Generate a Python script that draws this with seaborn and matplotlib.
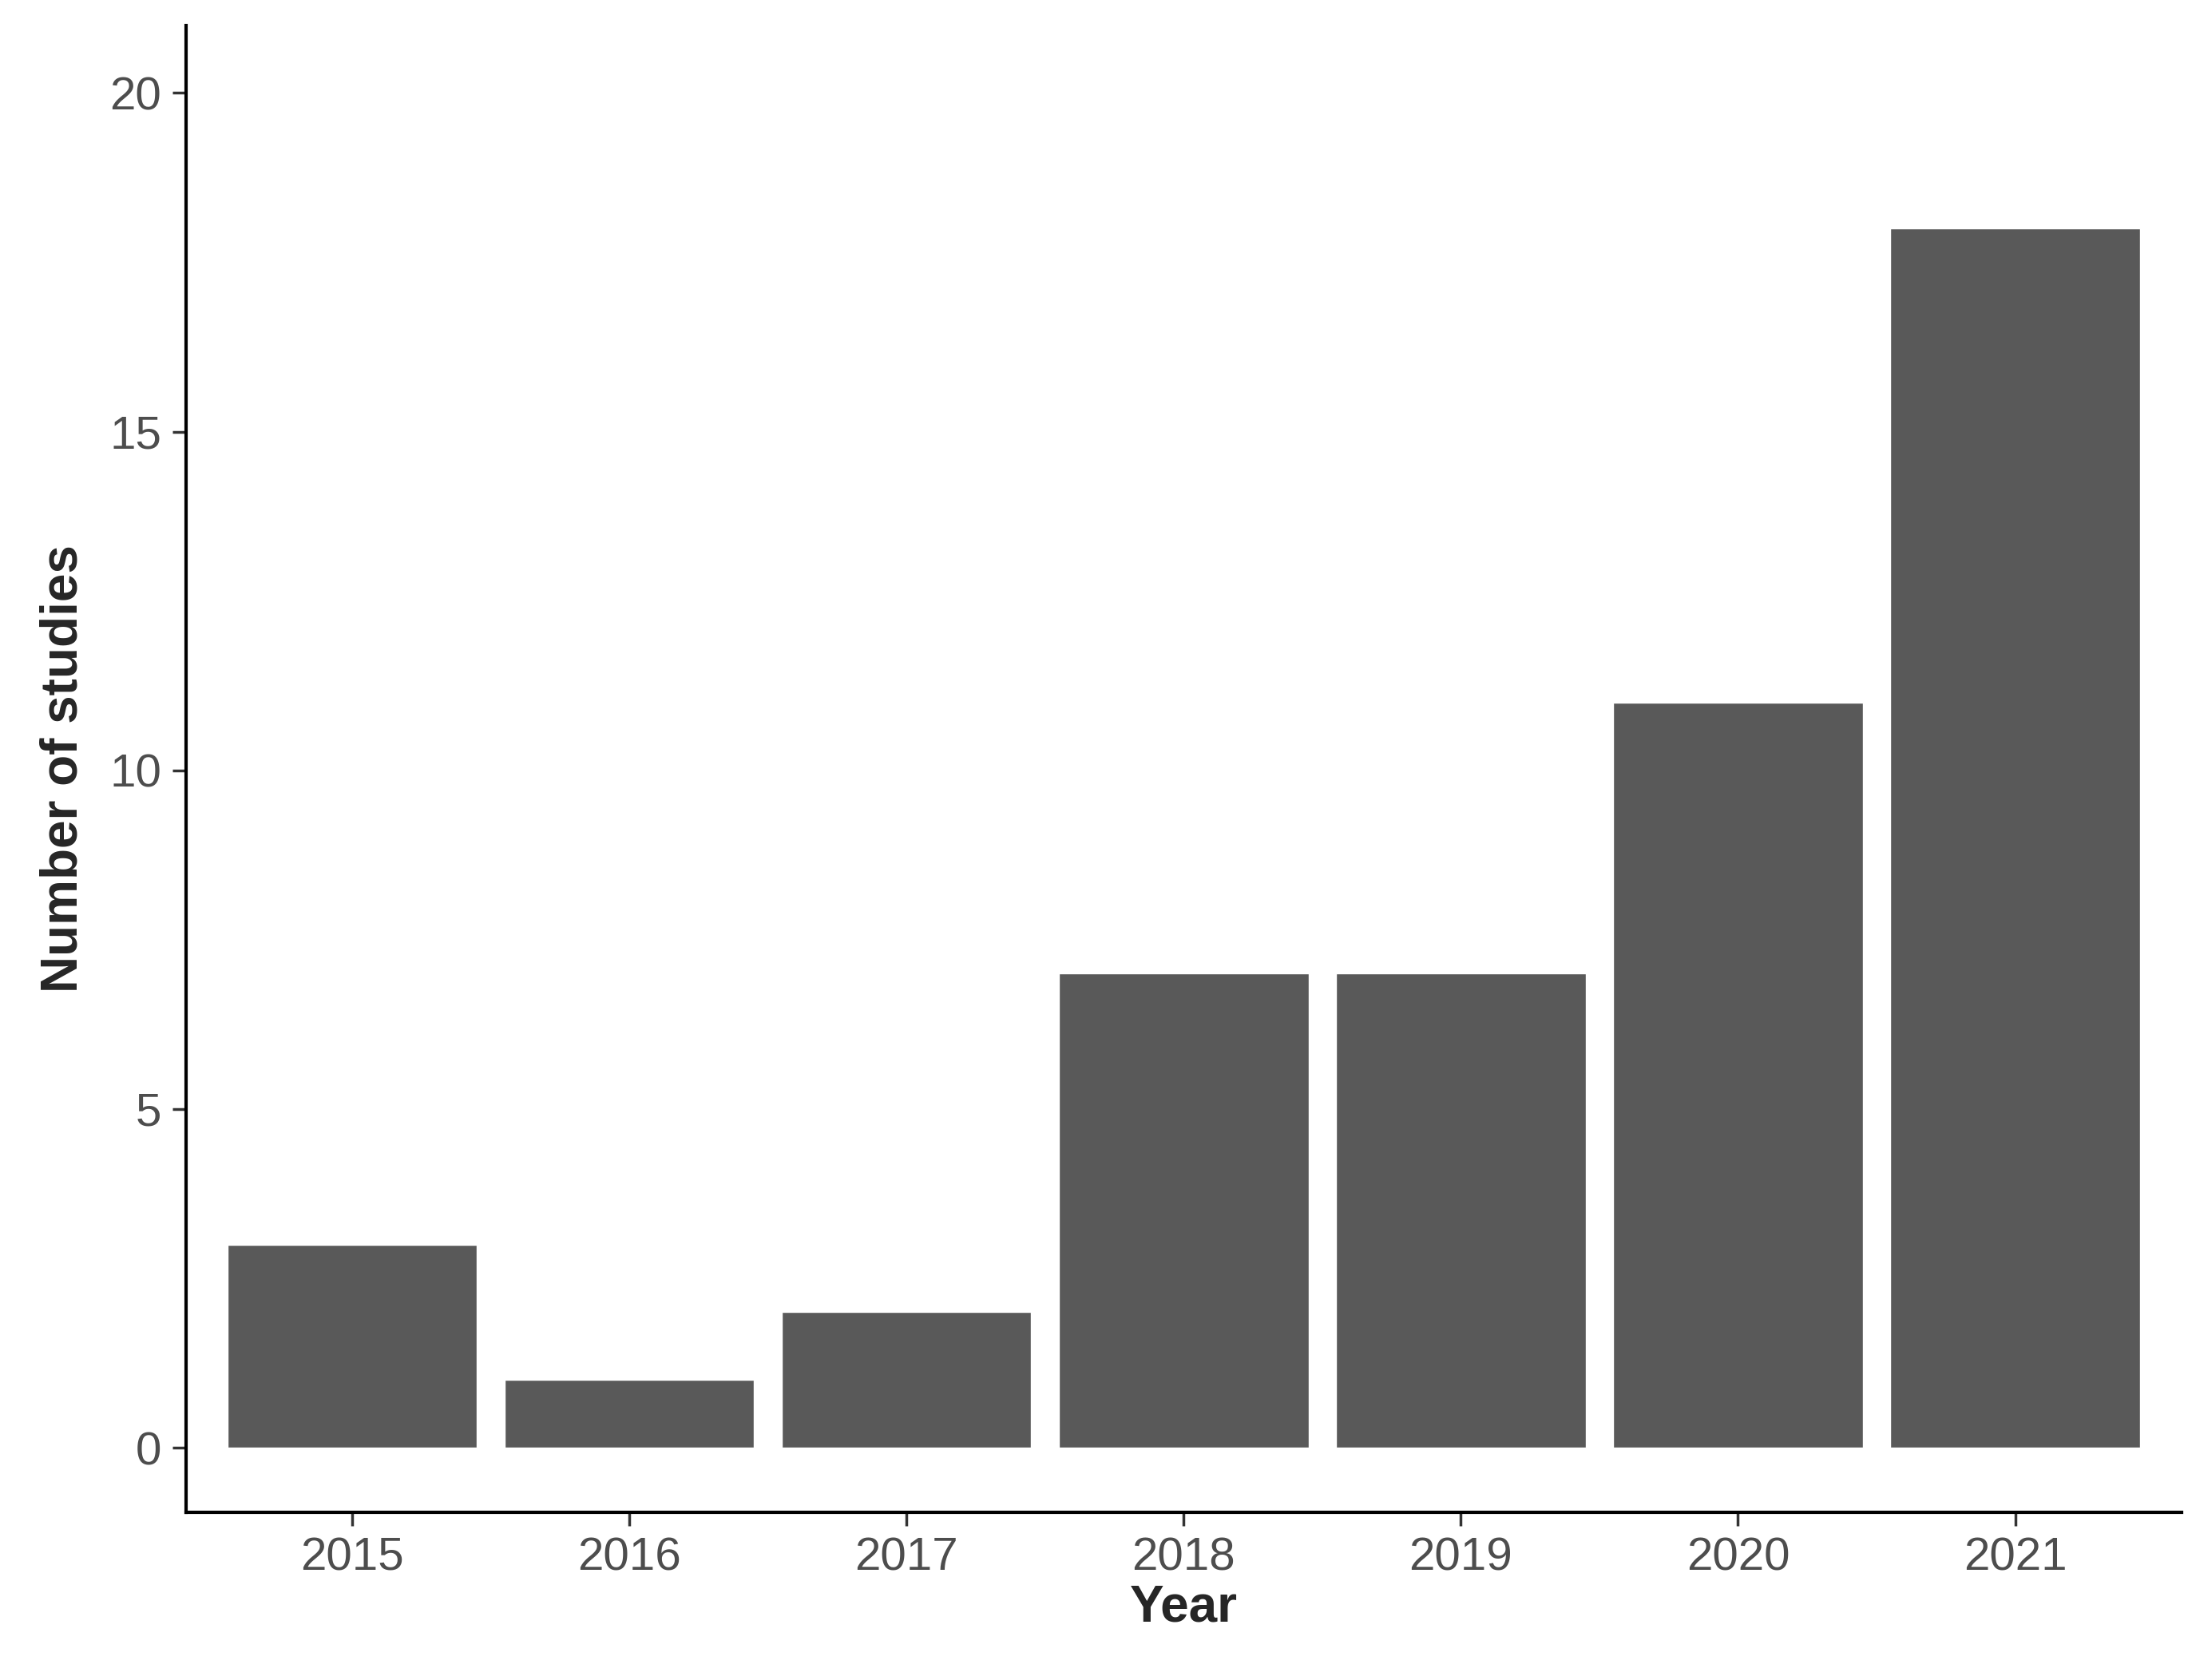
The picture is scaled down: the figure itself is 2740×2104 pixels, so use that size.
import matplotlib
matplotlib.use("Agg")
import matplotlib.pyplot as plt
import seaborn as sns
import pandas as pd

# Data
years = ["2015", "2016", "2017", "2018", "2019", "2020", "2021"]
studies = [3, 1, 2, 7, 7, 11, 18]

df = pd.DataFrame({"Year": years, "Number of studies": studies})

sns.set_style("ticks")
plt.rcParams['font.family'] = ['Liberation Sans', 'DejaVu Sans']

fig = plt.figure(figsize=(27.4, 21.04), dpi=100)
ax = fig.add_axes([0.085, 0.10, 0.912, 0.885])

sns.barplot(data=df, x="Year", y="Number of studies", color="#595959",
            saturation=1, width=0.9, ax=ax)

ax.set_xlim(-0.6, 6.6)
ax.set_ylim(-0.95, 21.0)
ax.set_yticks([0, 5, 10, 15, 20])
sns.despine(ax=ax)
for s in ["left", "bottom"]:
    ax.spines[s].set_linewidth(3)
    ax.spines[s].set_color("black")
ax.tick_params(axis="both", labelsize=42, labelcolor="#4d4d4d",
               length=12, width=2.5, color="#333333", pad=10)
ax.set_xlabel("Year", fontsize=46, fontweight="bold", labelpad=4)
ax.set_ylabel("Number of studies", fontsize=46, fontweight="bold", labelpad=20)

fig.savefig("out.png", dpi=100)
